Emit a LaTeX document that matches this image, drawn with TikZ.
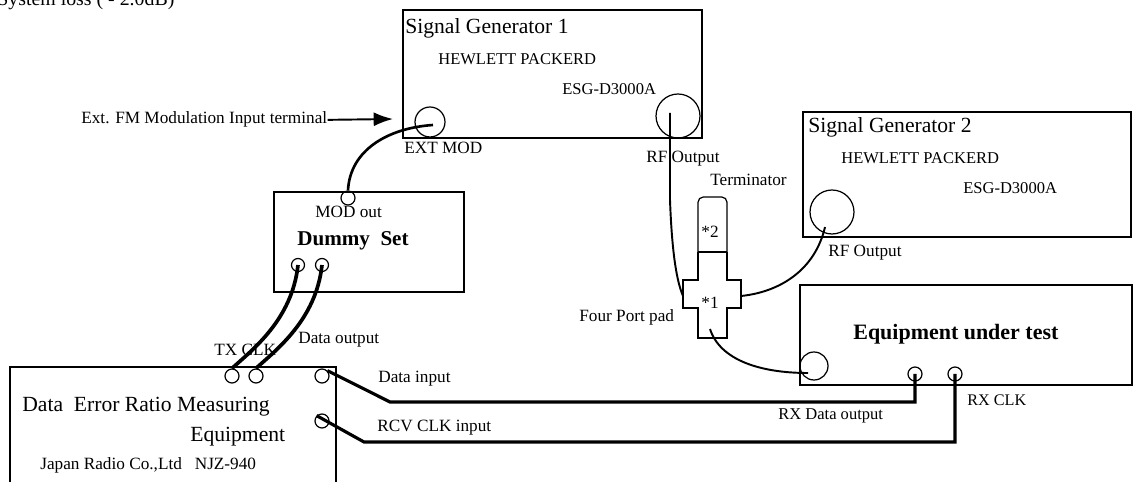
\documentclass[tikz,border=0pt]{standalone}
\usepackage{fontspec}
\setmainfont{Liberation Serif}
\usetikzlibrary{arrows.meta,fit}
\begin{document}
\begin{tikzpicture}[x=0.02cm,y=-0.02cm,
  box/.style={draw,line width=0.7pt,inner sep=0pt},
  port/.style={draw,circle,line width=0.7pt,inner sep=0pt,minimum size=#1*0.04cm},
  lbl/.style={anchor=base west,inner sep=0pt,font=\fontsize{9.8}{11}\selectfont},
  hp/.style={anchor=base west,inner sep=0pt,font=\fontsize{9.4}{11}\selectfont},
  ttl/.style={anchor=base west,inner sep=0pt,font=\fontsize{12.3}{14}\selectfont},
  bttl/.style={anchor=base west,inner sep=0pt,font=\fontsize{12.3}{14}\selectfont\bfseries},
  cable/.style={line width=1.8pt},
  thincable/.style={line width=1.1pt},
  outline/.style={line width=0.7pt}
]
\useasboundingbox (0,0) rectangle (1135,482);

% top text (cut by the page edge, as in the reference)
\node[lbl,font=\fontsize{11.3}{13}\selectfont] (sysloss) at (-3,6) {System loss ( - 2.0dB)};

% Signal Generator 1
\node[box,fit={(403,10) (702,138)}] (sg1) {};
\node[ttl] (sg1t) at (405,34) {Signal Generator 1};
\node[hp] (sg1hp) at (438,65) {HEWLETT PACKERD};
\node[hp] (sg1m) at (562,95) {ESG-D3000A};
\node[port=15] (extmod) at (430,122) {};
\node[port=22] (rf1) at (678,116) {};
\node[lbl] (extmodl) at (404,154) {EXT MOD};
\node[lbl] (rf1l) at (646,163) {RF Output};
\node[lbl] (extfm) at (81,124) {Ext. FM Modulation Input terminal};
\coordinate (arrowend) at (393,119);
\draw[line width=1.1pt,-{Latex[length=11pt,width=8pt]}] (extfm.east) -- (arrowend);

% Signal Generator 2
\node[box,fit={(803,112) (1131,237)}] (sg2) {};
\node[ttl] (sg2t) at (808,133) {Signal Generator 2};
\node[hp] (sg2hp) at (841,164) {HEWLETT PACKERD};
\node[hp] (sg2m) at (963,194) {ESG-D3000A};
\node[port=22] (rf2) at (832,212) {};
\node[lbl] (rf2l) at (828,257) {RF Output};

% Dummy Set
\node[box,fit={(274,192) (464,292)}] (dummy) {};
\node[port=7] (modout) at (348,198) {};
\node[lbl] (modoutl) at (315,218) {MOD out};
\node[bttl,font=\fontsize{12}{14}\selectfont\bfseries] (dummyt) at (297,246) {Dummy\ \ Set};
\node[port=6.5] (dum1) at (298,265) {};
\node[port=6.5] (dum2) at (322,265) {};

% Data Error Ratio Measuring Equipment
\node[box,fit={(10,367) (336,486)}] (derme) {};
\node[port=7] (tx1) at (232,376) {};
\node[port=7] (tx2) at (256,376) {};
\node[port=7] (din) at (322,376) {};
\node[port=7] (rcv) at (322,421) {};
\node[ttl] (dermet1) at (22,412) {Data\ \ Error Ratio Measuring};
\node[ttl] (dermet2) at (190,441) {Equipment};
\node[lbl] (dermet3) at (40,469) {Japan\ Radio\ Co.,Ltd\ \ \ NJZ-940};
\node[lbl] (txclkl) at (214,356) {TX CLK};
\node[lbl] (doutl) at (298,344) {Data output};
\node[lbl] (dinl) at (378,383) {Data input};
\node[lbl] (rcvl) at (377,432) {RCV CLK input};

% Equipment under test
\node[box,fit={(800,285) (1132,385)}] (eut) {};
\node[bttl,font=\fontsize{12.5}{14}\selectfont\bfseries] (eutt) at (853,340) {Equipment under test};
\node[port=14] (eutrf) at (814,366) {};
\node[port=7] (rxd) at (915,374) {};
\node[port=7] (rxclk) at (955,374) {};
\node[lbl,font=\fontsize{9.4}{11}\selectfont] (rxdl) at (778,419) {RX Data output};
\node[lbl,font=\fontsize{9.2}{11}\selectfont] (rxclkl) at (967,406) {RX CLK};

% Four port pad and terminator
\draw[outline] (698,252) -- (698,280) -- (683,280) -- (683,308) -- (698,308)
  -- (698,338) -- (727,338) -- (727,308) -- (741,308) -- (741,280)
  -- (727,280) -- (727,252);
\draw[outline,rounded corners=3pt] (698,252) -- (698,197) -- (727,197) -- (727,252);
\draw[outline] (698,252) -- (727,252);
\node[lbl,anchor=center] (p2) at (710,232) {*2};
\node[lbl,anchor=center] (p1) at (710,303) {*1};
\node[lbl] (fpl) at (579,322) {Four\ Port\ pad};
\node[lbl] (terml) at (710,186) {Terminator};
\coordinate (padL) at (683,296);
\coordinate (padR) at (741,296);
\coordinate (padB) at (710,329);
\coordinate (rf1tap) at (670,113);
\coordinate (rf2tap) at (825,227);
\coordinate (eutrftap) at (808,373);
\coordinate (extmodtap) at (433,125);

% cables
\draw[cable,line width=1.5pt] (extmodtap) .. controls (388,128) and (350,150) .. (modout.north);
\draw[thincable] (rf1tap) -- (670,200) .. controls (672,255) and (677,282) .. (padL);
\draw[thincable] (rf2tap) .. controls (815,270) and (780,292) .. (padR);
\draw[thincable] (padB) .. controls (720,360) and (760,373) .. (eutrftap);
\draw[cable,line width=2.1pt] (dum1.center) .. controls (292,320) and (252,350) .. (tx1.north);
\draw[cable,line width=2.1pt] (dum2.center) .. controls (316,320) and (276,350) .. (tx2.north);
\coordinate (dA) at (390,402);
\coordinate (rA) at (364,442);
\draw[cable] (din.north east) -- (dA) -| (rxd.center);
\draw[cable] (rcv.north west) -- (rA) -| (rxclk.center);
\end{tikzpicture}
\end{document}
